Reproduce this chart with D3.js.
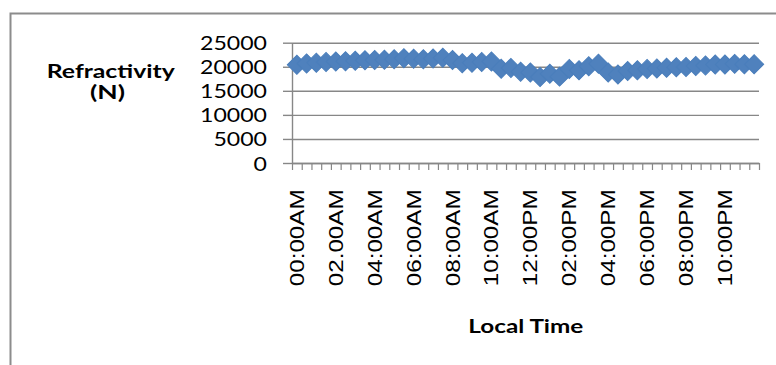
<!DOCTYPE html>
<html><head><meta charset="utf-8">
<script src="https://cdn.jsdelivr.net/npm/d3@7"></script>
<style>body{margin:0;background:#fff}svg{display:block}</style>
</head><body>
<svg id="c" width="776" height="365"></svg>
<script>
const categories = [
  "00:00AM","00:30AM","01:00AM","01:30AM","02.00AM","02:30AM","03:00AM","03:30AM",
  "04:00AM","04:30AM","05:00AM","05:30AM","06:00AM","06:30AM","07:00AM","07:30AM",
  "08:00AM","08:30AM","09:00AM","09:30AM","10:00AM","10:30AM","11:00AM","11:30AM",
  "12:00PM","12:30PM","01:00PM","01:30PM","02:00PM","02:30PM","03:00PM","03:30PM",
  "04:00PM","04:30PM","05:00PM","05:30PM","06:00PM","06:30PM","07:00PM","07:30PM",
  "08:00PM","08:30PM","09:00PM","09:30PM","10:00PM","10:30PM","11:00PM","11:30PM"
];
const refractivity = [
  20400,20700,20850,21000,21100,21150,21250,21350,
  21400,21450,21550,21750,21650,21550,21700,21850,
  21400,20750,20850,21000,21100,19600,19750,18950,
  18800,17850,18550,17950,19550,19250,20100,20650,
  18800,18400,19100,19250,19550,19650,19800,19900,
  19950,20150,20250,20450,20450,20600,20500,20500
];
const yTicks = [0,5000,10000,15000,20000,25000];
const labelEvery = 4;
const yTitle = ["Refractivity","(N)"];
const xTitle = "Local Time";

const gray = "#878787";
const blue = "#4F81BD";
const svg = d3.select("#c");
const m = {l:292, r:759, t:42.7, b:163};

const x = d3.scaleBand().domain(categories).range([m.l, m.r]).padding(0);
const xb = d3.scaleLinear().domain([0, categories.length]).range([m.l, m.r]);
const y = d3.scaleLinear().domain([0, 25000]).range([m.b, m.t]);

// chart frame
svg.append("path").attr("d", "M10.5,365 V13.5 H776")
  .attr("fill","none").attr("stroke","#8c8c8c").attr("stroke-width",2);

// gridlines
const grid = svg.append("g").attr("transform", `translate(${m.l},0)`)
  .call(d3.axisRight(y).tickValues(yTicks).tickSize(m.r - m.l).tickFormat(""));
grid.select(".domain").remove();
grid.selectAll("line").attr("stroke", gray).attr("stroke-width", 1.4);

// y axis
const ya = svg.append("g").attr("transform", `translate(${m.l},0)`)
  .call(d3.axisLeft(y).tickValues(yTicks).tickFormat(d3.format("d")).tickSize(9).tickPadding(16).tickSizeOuter(0));
ya.select(".domain").attr("stroke", gray).attr("stroke-width", 1.4);
ya.selectAll("line").attr("stroke", gray).attr("stroke-width", 1.4);
ya.selectAll("text")
  .attr("font-family", "Lato, 'Open Sans', sans-serif").attr("font-size", 19.5)
  .attr("fill", "#000").attr("dy", "0.36em")
  .attr("textLength", d => String(d).length * 13.4).attr("lengthAdjust", "spacingAndGlyphs");

// x axis tick marks (between categories)
const xa = svg.append("g").attr("transform", `translate(0,${m.b})`)
  .call(d3.axisBottom(xb).tickValues(d3.range(categories.length + 1)).tickSize(7).tickFormat("").tickSizeOuter(0));
xa.select(".domain").attr("stroke", gray).attr("stroke-width", 1.4);
xa.selectAll("line").attr("stroke", gray).attr("stroke-width", 1.2);

// x axis labels
const xl = svg.append("g").attr("transform", `translate(0,${m.b})`)
  .call(d3.axisBottom(x).tickSize(0).tickFormat((d, i) => i % labelEvery === 0 ? d : ""));
xl.select(".domain").remove();
xl.selectAll("text")
  .attr("transform", "rotate(-90)")
  .attr("text-anchor", "end")
  .attr("x", -26.3).attr("y", 0).attr("dy", "0.36em")
  .attr("font-family", "'Liberation Sans', Arial, sans-serif").attr("font-size", 19.5)
  .attr("fill", "#000")
  .filter(d => categories.indexOf(d) % labelEvery === 0)
  .attr("textLength", 97).attr("lengthAdjust", "spacingAndGlyphs");

// series line
const cx = d => x(d) + x.bandwidth() / 2;
svg.append("path")
  .datum(categories)
  .attr("fill", "none").attr("stroke", "#4A7EBB").attr("stroke-width", 3).attr("stroke-linejoin","round")
  .attr("d", d3.line().x(d => cx(d)).y((d, i) => y(refractivity[i])));

// markers (diamonds)
const sym = d3.symbol().type(d3.symbolSquare).size(182);
svg.append("g").selectAll("path").data(categories).join("path")
  .attr("transform", (d, i) => `translate(${cx(d)},${y(refractivity[i])}) rotate(45)`)
  .attr("d", sym).attr("fill", blue).attr("stroke", "#4A7EBB").attr("stroke-width", 1);

// titles
const tf = "Lato, 'Open Sans', sans-serif";
svg.append("text").text(yTitle[0]).attr("x", 110.8).attr("y", 78.3)
  .attr("text-anchor","middle").attr("font-family", tf).attr("font-weight", 700).attr("font-size", 18.5)
  .attr("textLength", 128).attr("lengthAdjust","spacingAndGlyphs");
svg.append("text").text(yTitle[1]).attr("x", 107.5).attr("y", 98.5)
  .attr("text-anchor","middle").attr("font-family", tf).attr("font-weight", 700).attr("font-size", 18.5)
  .attr("textLength", 35).attr("lengthAdjust","spacingAndGlyphs");
svg.append("text").text(xTitle).attr("x", 525.8).attr("y", 333.3)
  .attr("text-anchor","middle").attr("font-family", tf).attr("font-weight", 700).attr("font-size", 18.5)
  .attr("textLength", 115).attr("lengthAdjust","spacingAndGlyphs");
</script>
</body></html>
